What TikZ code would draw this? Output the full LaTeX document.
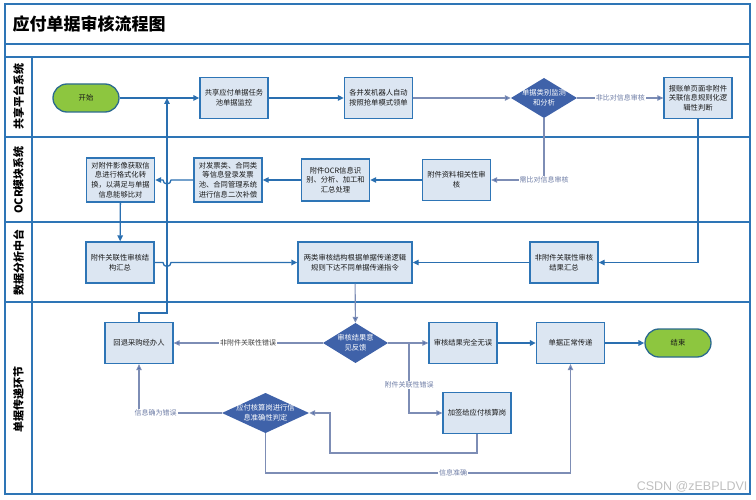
\documentclass[tikz,border=0pt]{standalone}
\usepackage{fontspec}
\setmainfont{Noto Sans CJK SC}
\newfontfamily\wmfont{Liberation Sans}
\usetikzlibrary{arrows.meta,calc}
\definecolor{laneblue}{HTML}{2E75B6}
\definecolor{boxfill}{HTML}{DCE6F2}
\definecolor{boxline}{HTML}{2E75B6}
\definecolor{diafill}{HTML}{3F62A9}
\definecolor{greenfill}{HTML}{8DC63F}
\definecolor{greenline}{HTML}{2B6A8E}
\definecolor{grayline}{HTML}{7D8DB5}
\definecolor{grayarrow}{HTML}{4A6AAD}
\definecolor{graytext}{HTML}{6E7DA6}
\definecolor{arrowblue}{HTML}{2A6FB0}
\begin{document}
\begin{tikzpicture}[x=1pt,y=-1pt,
  procbox/.style={draw=boxline,line width=1.3pt,fill=boxfill,minimum width=68pt,minimum height=41pt,
    text width=64pt,align=center,inner sep=1pt,font=\fontsize{7.3}{9.6}\selectfont,text=black!90},
  termbox/.style={draw=greenline,line width=1.3pt,fill=greenfill,rounded corners=14pt,minimum width=66pt,
    minimum height=28pt,font=\fontsize{7.3}{9.6}\selectfont,text=black!90},
  diabox/.style={minimum width=#1,minimum height=40pt,inner sep=0pt,align=center,text=white,
    font=\fontsize{7.3}{9.6}\selectfont,
    path picture={\fill[diafill] (path picture bounding box.north) -- (path picture bounding box.east)
      -- (path picture bounding box.south) -- (path picture bounding box.west) -- cycle;}},
  lanetitle/.style={rotate=90,font=\fontsize{11}{13}\selectfont\bfseries,text=black},
  bl/.style={draw=arrowblue,line width=1.3pt,-{Triangle[length=6pt,width=5.5pt]}},
  gl/.style={draw=grayline,line width=1.1pt,-{Triangle[length=6pt,width=5.5pt,fill=grayarrow]}},
  lbl/.style={fill=white,inner sep=1pt,text=graytext,font=\fontsize{7}{9}\selectfont},
  lbldark/.style={fill=white,inner sep=1pt,text=black!75,font=\fontsize{7}{9}\selectfont},
  laneline/.style={draw=laneblue,line width=1.5pt}
]
\useasboundingbox (0,0) rectangle (756,500);
% frame and lanes
\draw[laneline] (5,4) rectangle (750,494);
\draw[laneline] (5,44) -- (750,44);
\draw[laneline] (5,57) -- (750,57);
\draw[laneline] (5,137) -- (750,137);
\draw[laneline] (5,222) -- (750,222);
\draw[laneline] (5,302) -- (750,302);
\draw[laneline] (32,57) -- (32,494);
\node[anchor=west,font=\fontsize{17}{20}\selectfont\bfseries] (title) at (9,24) {应付单据审核流程图};
\node[lanetitle] (l1) at (18.5,97) {共享平台系统};
\node[lanetitle] (l2) at (18.5,180) {OCR模块系统};
\node[lanetitle] (l3) at (18.5,262) {数据分析中台};
\node[lanetitle] (l4) at (18.5,399) {单据传递环节};

% nodes
\node[termbox] (start) at (86,98) {开始};
\node[procbox] (pool) at (234,98) {共享应付单据任务\\池单据监控};
\node[procbox] (robot) at (378.5,98) {各并发机器人自动\\按照抢单模式领单};
\node[diabox=66pt] (d1) at (544,98) {单据类别监测\\和分析};
\node[procbox] (rep) at (698,98) {报账单页面非附件\\关联信息规则化逻\\辑性判断};

\node[procbox] (att) at (456.5,180) {附件资料相关性审\\核};
\node[procbox,minimum height=42pt] (ocr) at (335.5,180) {附件OCR信息识\\别、分析、加工和\\汇总处理};
\node[procbox,minimum height=44pt] (inv) at (228,180) {对发票类、合同类\\等信息登录发票\\池、合同管理系统\\进行信息二次补偿};
\node[procbox,minimum height=44pt] (img) at (120.5,180) {对附件影像获取信\\息进行格式化转\\换，以满足与单据\\信息能够比对};

\node[procbox] (sum1) at (120,262.5) {附件关联性审核结\\构汇总};
\node[procbox,minimum width=114pt,text width=110pt] (two) at (355,262.5) {两类审核结构根据单据传递逻辑\\规则下达不同单据传递指令};
\node[procbox] (sum2) at (564,262.5) {非附件关联性审核\\结果汇总};

\node[procbox] (back) at (139,343) {回退采购经办人};
\node[diabox=65pt] (d2) at (355.5,343) {审核结果意\\见反馈};
\node[procbox] (ok) at (463,343) {审核结果完全无误};
\node[procbox] (norm) at (570.5,343) {单据正常传递};
\node[termbox] (end) at (678,343) {结束};
\node[procbox] (add) at (477,413) {加签给应付核算岗};
\node[diabox=87pt] (d3) at (265.5,413) {应付核算岗进行信\\息准确性判定};

\node[anchor=east,font=\wmfont\fontsize{12.5}{14}\selectfont,text=black!25] (wm) at (751,487) {CSDN @zEBPLDVI};

% helper coordinates
\coordinate (j1) at (167,98);
\coordinate (h1) at (171,180);
\coordinate (h2) at (163,262.5);
\coordinate (br) at (409,343);
\coordinate (k1) at (139,313);
\coordinate (c1) at (330,453);
\coordinate (c2) at (330,473);

% connectors
\draw[bl] (start) -- (pool);
\draw[bl] (pool) -- (robot);
\draw[gl] (robot) -- (d1);
\draw[gl] (d1) -- node[lbl,pos=0.5]{非比对信息审核} (rep);
\draw[gl] (d1.south) |- node[lbl,pos=0.5]{需比对信息审核} (att.east);
\draw[bl] (att) -- (ocr);
\draw[bl] (ocr) -- (inv);
\draw[bl] (inv.west) -- (h1) arc[start angle=0,end angle=-180,radius=4pt] -- (img.east);
\draw[bl] (img) -- (sum1);
\draw[bl] (sum1.east) -- (h2) arc[start angle=180,end angle=360,radius=4pt] -- (two.west);
\draw[bl] (rep.south) |- (sum2.east);
\draw[bl] (sum2) -- (two);
\draw[gl] (two) -- (d2);
\draw[gl] (d2) -- node[lbldark,pos=0.5]{非附件关联性错误} (back);
\draw[gl] (d2) -- (ok);
\draw[gl] (br) |- node[lbl,pos=0.3]{附件关联性错误} (add.west);
\draw[gl] (add.south) |- (c1) |- (d3.east);
\draw[gl] (d3.west) -| node[lbl,pos=0.4]{信息确为错误} (back.south);
\draw[gl] (d3.south) |- (c2) -| node[lbl,pos=0.256]{信息准确} (norm.south);
\draw[bl] (ok) -- (norm);
\draw[bl] (norm) -- (end);
\draw[bl] (back.north) -- (k1) -| (j1);
\end{tikzpicture}
\end{document}
